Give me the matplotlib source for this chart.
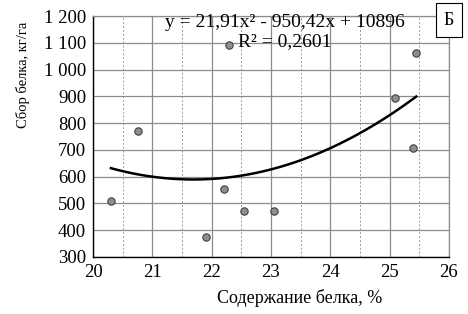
import matplotlib
matplotlib.use("Agg")
import matplotlib.pyplot as plt
import numpy as np
from matplotlib.ticker import MultipleLocator, FuncFormatter

# ── Data ──────────────────────────────────────────────────────────────
protein_pct = [20.3, 20.75, 21.9, 22.2, 22.3, 22.55, 23.05, 25.1, 25.4, 25.45]
protein_yield = [510, 770, 373, 555, 1092, 470, 470, 893, 708, 1060]
coef = [21.91, -950.42, 10896]
equation = "y = 21,91x² - 950,42x + 10896"
r2_text = "R² = 0,2601"
panel = "Б"

plt.rcParams["font.family"] = ["Liberation Serif", "DejaVu Serif"]

fig = plt.figure(figsize=(4.68, 3.14), dpi=100)
ax = fig.add_axes([0.199, 0.182, 0.76, 0.767])

# ── Grid ──────────────────────────────────────────────────────────────
ax.set_xlim(20, 26)
ax.set_ylim(300, 1200)
ax.xaxis.set_major_locator(MultipleLocator(1))
ax.xaxis.set_minor_locator(MultipleLocator(0.5))
ax.yaxis.set_major_locator(MultipleLocator(100))
ax.grid(True, which="major", color="#8c8c8c", linewidth=0.9)
ax.grid(True, which="minor", axis="x", color="#9a9a9a", linestyle=(0, (2, 2)), linewidth=0.7)
ax.set_axisbelow(True)

for side in ["top", "right"]:
    ax.spines[side].set_color("#8c8c8c")
    ax.spines[side].set_linewidth(0.9)
for side in ["left", "bottom"]:
    ax.spines[side].set_color("black")
    ax.spines[side].set_linewidth(1.0)

ax.tick_params(which="both", length=0, labelsize=13.5, pad=5)
ax.yaxis.set_major_formatter(
    FuncFormatter(lambda v, _: f"{int(v):,}".replace(",", " "))
)

# ── Points + trend ────────────────────────────────────────────────────
ax.scatter(protein_pct, protein_yield, s=28, color="#8f8f8f",
           edgecolor="#404040", linewidth=0.8, zorder=3)
xs = np.linspace(min(protein_pct), max(protein_pct), 200)
ax.plot(xs, np.polyval(coef, xs), color="black", linewidth=1.8, zorder=2)

ax.text(0.54, 1.01, equation, transform=ax.transAxes, ha="center",
        va="top", fontsize=14)
ax.text(0.54, 0.93, r2_text, transform=ax.transAxes, ha="center",
        va="top", fontsize=14)

fig.text(0.959, 0.936, panel, ha="center", va="center", fontsize=13,
         bbox=dict(boxstyle="square,pad=0.45", facecolor="white",
                   edgecolor="black", linewidth=0.8))

ax.set_xlabel("Содержание белка, %", fontsize=13)
ax.xaxis.set_label_coords(0.58, -0.135)
ax.set_ylabel("Сбор белка, кг/га", fontsize=10.5)
ax.yaxis.set_label_coords(-0.177, 0.755)

fig.savefig("out.png", dpi=100)
